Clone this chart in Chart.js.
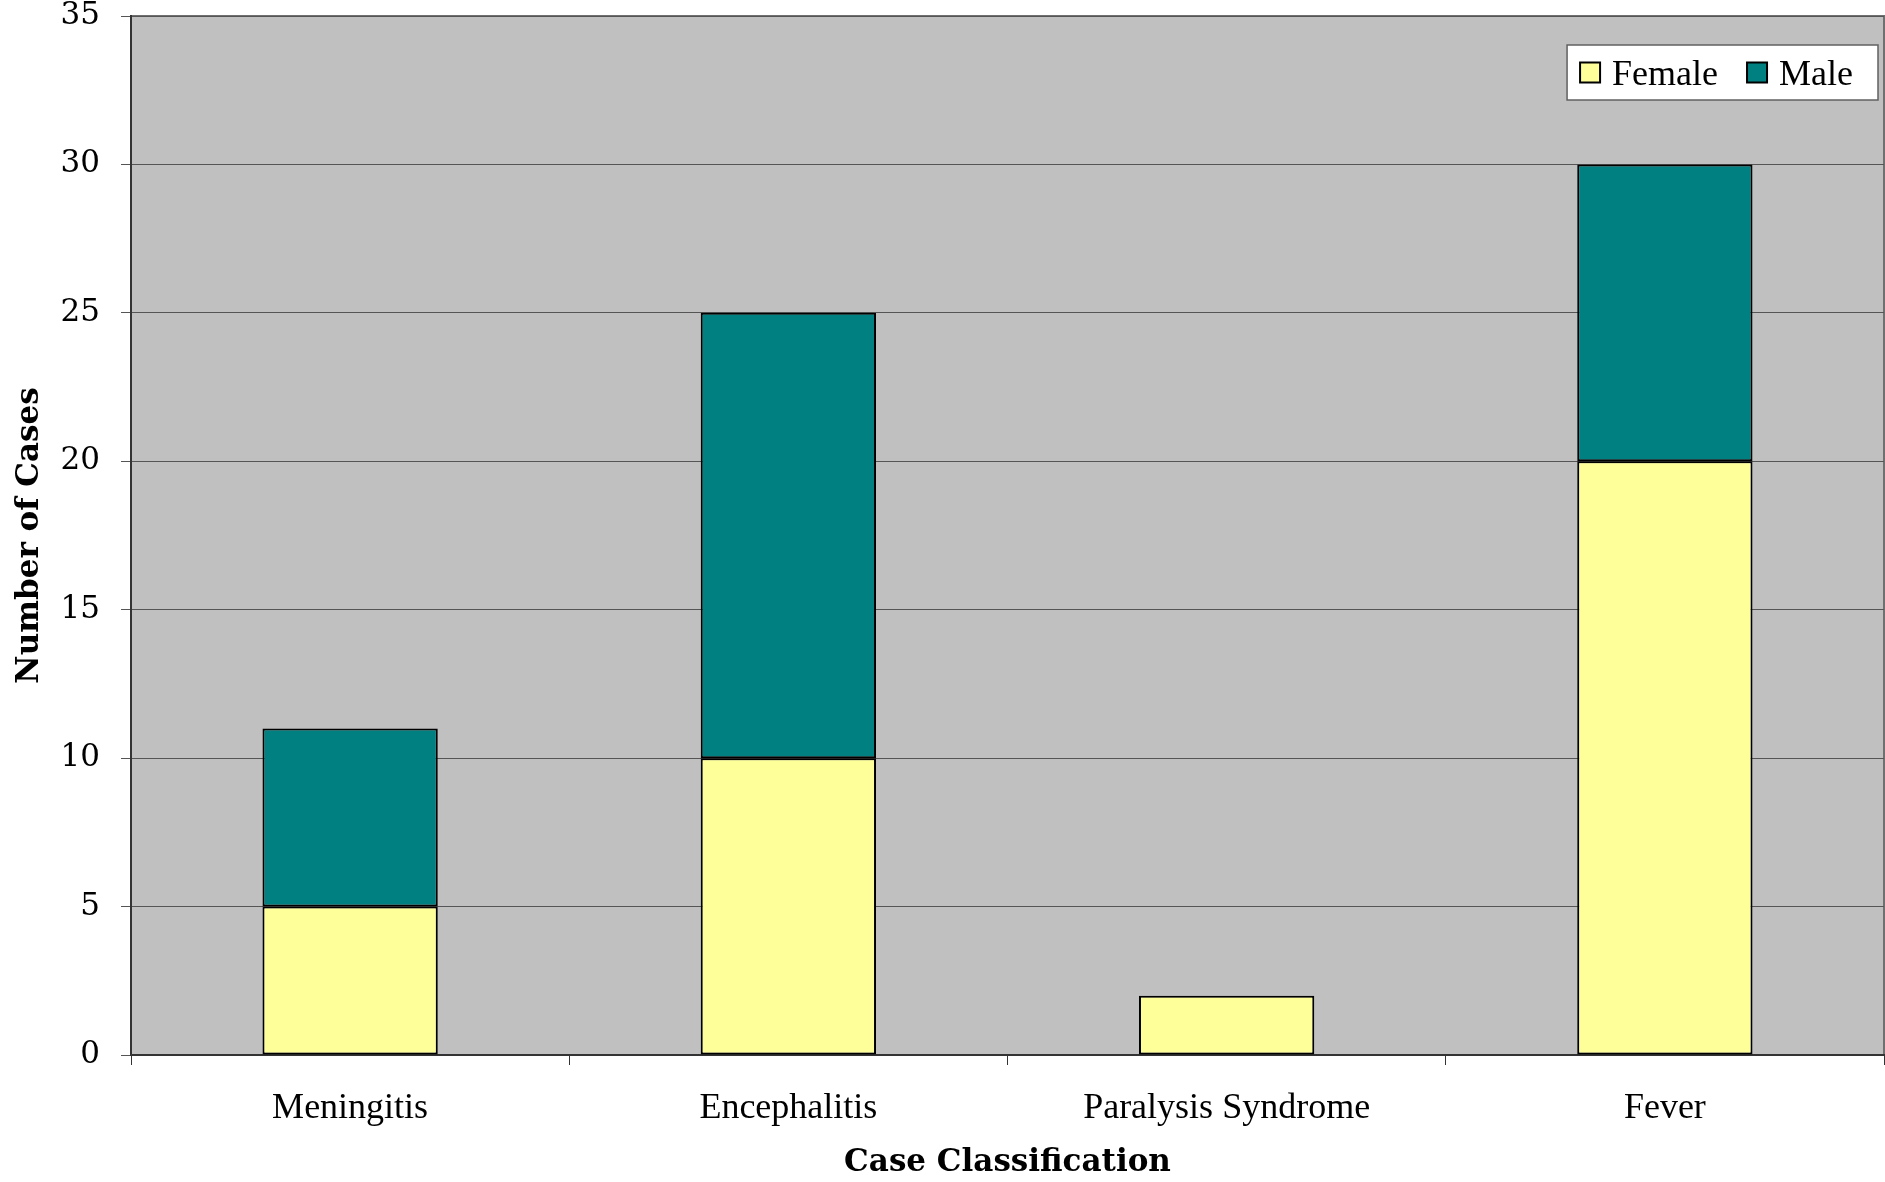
<!DOCTYPE html>
<html>
<head>
<meta charset="utf-8">
<title>Cases by classification and sex</title>
<script src="https://cdn.jsdelivr.net/npm/chart.js@4.4.1/dist/chart.umd.min.js"></script>
<style>
    html, body { margin: 0; padding: 0; background: #fff; }
    #wrap { width: 1885px; height: 1182px; }
</style>
</head>
<body>
<div id="wrap"><canvas id="chart"></canvas></div>
<script>
// data
const categories = ['Meningitis', 'Encephalitis', 'Paralysis Syndrome', 'Fever'];
const femaleCases = [5, 10, 2, 20];
const maleCases = [6, 15, 0, 10];
const yTicks = [0, 5, 10, 15, 20, 25, 30, 35];

const serif = '"Liberation Serif", "Times New Roman", serif';
const georgiaLike = '"DejaVu Serif", Georgia, serif';

// grey plot area with a thin frame
const plotBackground = {
    id: 'plotBackground',
    beforeDraw(chart) {
        const { ctx, chartArea: a } = chart;
        ctx.save();
        ctx.fillStyle = '#c0c0c0';
        ctx.fillRect(a.left, a.top, a.right - a.left, a.bottom - a.top);
        ctx.strokeStyle = '#707070';
        ctx.lineWidth = 2;
        ctx.strokeRect(a.left, a.top, a.right - a.left, a.bottom - a.top);
        ctx.restore();
    }
};

// legend in a white box inside the plot, top right
const boxLegend = {
    id: 'boxLegend',
    afterDatasetsDraw(chart) {
        const { ctx, chartArea: a } = chart;
        const sets = chart.data.datasets;
        const sq = 20, gap = 12, between = 29, padL = 13, padR = 25;
        ctx.save();
        ctx.font = '36px ' + serif;
        const widths = sets.map(ds => ctx.measureText(ds.label).width);
        let total = padL + padR + between * (sets.length - 1);
        widths.forEach(w => { total += sq + gap + w; });
        const right = a.right - 6, top = a.top + 29, h = 55;
        const left = right - total;
        ctx.fillStyle = '#fff';
        ctx.fillRect(left, top, total, h);
        ctx.strokeStyle = '#606060';
        ctx.lineWidth = 1.5;
        ctx.strokeRect(left, top, total, h);

        let x = left + padL;
        const cy = top + h / 2;
        sets.forEach((ds, i) => {
            ctx.fillStyle = ds.backgroundColor;
            ctx.fillRect(x, cy - sq / 2, sq, sq);
            ctx.strokeStyle = '#000';
            ctx.lineWidth = 2;
            ctx.strokeRect(x, cy - sq / 2, sq, sq);
            ctx.fillStyle = '#000';
            ctx.textBaseline = 'middle';
            ctx.textAlign = 'left';
            ctx.fillText(ds.label, x + sq + gap, cy + 3);
            x += sq + gap + widths[i] + between;
        });
        ctx.restore();
    }
};

const ctx = document.getElementById('chart').getContext('2d');
new Chart(ctx, {
    type: 'bar',
    data: {
        labels: categories,
        datasets: [
            {
                label: 'Female',
                data: femaleCases,
                backgroundColor: '#ffff99',
                borderColor: '#000',
                borderWidth: 2,
                borderSkipped: false
            },
            {
                label: 'Male',
                data: maleCases,
                backgroundColor: '#008080',
                borderColor: '#000',
                borderWidth: 2,
                borderSkipped: false
            }
        ]
    },
    options: {
        responsive: true,
        maintainAspectRatio: false,
        animation: false,
        layout: { padding: { top: 16, right: 1, left: 0, bottom: 0 } },
        datasets: {
            bar: { barPercentage: 0.4, categoryPercentage: 1.0 }
        },
        plugins: {
            legend: { display: false },
            tooltip: { enabled: false }
        },
        scales: {
            x: {
                stacked: true,
                offset: true,
                afterFit(scale) {
                    scale.height = 127;
                    scale.paddingLeft = 0;
                    scale.paddingRight = 0;
                },
                grid: {
                    offset: true,
                    drawOnChartArea: false,
                    drawTicks: true,
                    tickLength: 10,
                    color: '#333'
                },
                border: { color: '#333', width: 2 },
                ticks: {
                    color: '#000',
                    padding: 22,
                    maxRotation: 0,
                    font: { family: serif, size: 36 }
                },
                title: {
                    display: true,
                    text: 'Case Classification',
                    color: '#000',
                    padding: { top: 0, bottom: 0 },
                    font: { family: georgiaLike, size: 31, weight: 'bold' }
                }
            },
            y: {
                stacked: true,
                min: 0,
                max: 35,
                afterFit(scale) {
                    scale.width = 131;
                    scale.paddingTop = 0;
                    scale.paddingBottom = 0;
                },
                afterBuildTicks(scale) {
                    scale.ticks = yTicks.map(v => ({ value: v }));
                },
                grid: {
                    color: '#555',
                    lineWidth: 1,
                    drawTicks: true,
                    tickLength: 10
                },
                border: { color: '#333', width: 2 },
                ticks: {
                    color: '#000',
                    padding: 21,
                    font: { family: georgiaLike, size: 31 }
                },
                title: {
                    display: true,
                    text: 'Number of Cases',
                    color: '#000',
                    padding: { top: 11, bottom: 0 },
                    font: { family: georgiaLike, size: 31, weight: 'bold' }
                }
            }
        }
    },
    plugins: [plotBackground, boxLegend]
});
</script>
</body>
</html>
